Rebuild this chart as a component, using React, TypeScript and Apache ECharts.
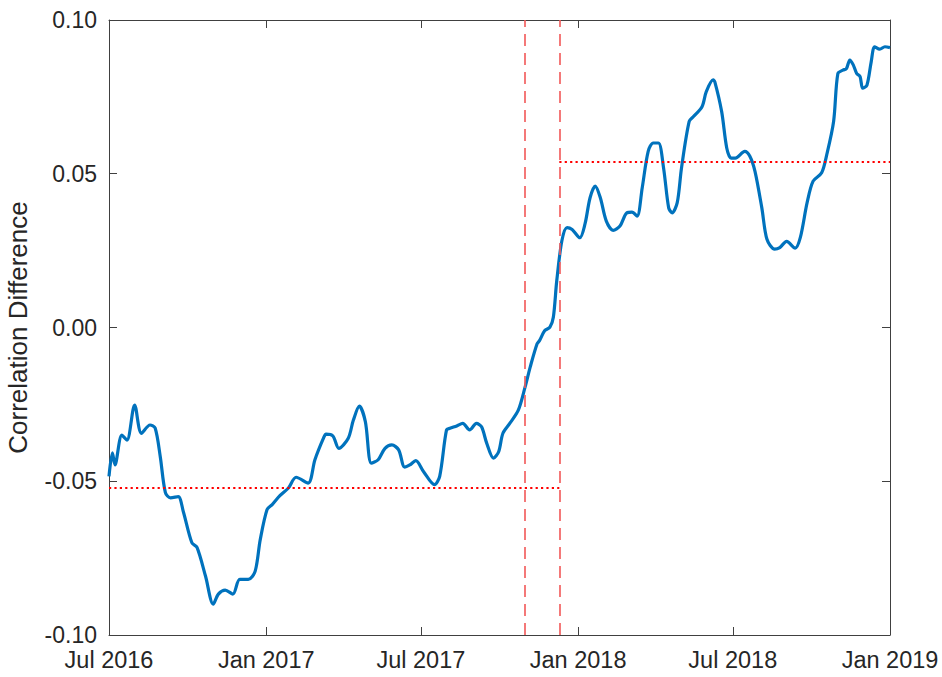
import React, { useEffect, useRef } from "react";
import * as echarts from "echarts";

// Correlation difference (rolling)
const dates: string[] = [
  "2016-07-01", "2016-07-05", "2016-07-08", "2016-07-16", "2016-07-22", "2016-07-31",
  "2016-08-08", "2016-08-18", "2016-08-24", "2016-08-30", "2016-09-05", "2016-09-11",
  "2016-09-20", "2016-09-26", "2016-10-06", "2016-10-12", "2016-10-22", "2016-10-31",
  "2016-11-06", "2016-11-14", "2016-11-23", "2016-12-01", "2016-12-11", "2016-12-19",
  "2016-12-25", "2017-01-02", "2017-01-08", "2017-01-17", "2017-01-27", "2017-02-05",
  "2017-02-19", "2017-02-27", "2017-03-09", "2017-03-12", "2017-03-20", "2017-03-27",
  "2017-04-07", "2017-04-13", "2017-04-20", "2017-04-27", "2017-05-04", "2017-05-12",
  "2017-05-20", "2017-05-28", "2017-06-05", "2017-06-12", "2017-06-18", "2017-06-25",
  "2017-07-04", "2017-07-17", "2017-07-23", "2017-07-31", "2017-08-04", "2017-08-12",
  "2017-08-19", "2017-08-27", "2017-09-04", "2017-09-10", "2017-09-16", "2017-09-24",
  "2017-09-30", "2017-10-05", "2017-10-13", "2017-10-23", "2017-10-31", "2017-11-06",
  "2017-11-14", "2017-11-17", "2017-11-23", "2017-11-29", "2017-12-03", "2017-12-07",
  "2017-12-13", "2017-12-19", "2017-12-25", "2018-01-03", "2018-01-09", "2018-01-15",
  "2018-01-21", "2018-01-27", "2018-02-03", "2018-02-11", "2018-02-19", "2018-02-27",
  "2018-03-05", "2018-03-11", "2018-03-17", "2018-03-24", "2018-03-30", "2018-04-05",
  "2018-04-11", "2018-04-17", "2018-04-21", "2018-04-27", "2018-05-02", "2018-05-11",
  "2018-05-16", "2018-05-26", "2018-05-31", "2018-06-08", "2018-06-10", "2018-06-18",
  "2018-06-24", "2018-06-29", "2018-07-04", "2018-07-15", "2018-07-21", "2018-07-27",
  "2018-08-04", "2018-08-10", "2018-08-19", "2018-08-25", "2018-09-02", "2018-09-12",
  "2018-09-18", "2018-09-26", "2018-10-03", "2018-10-13", "2018-10-19", "2018-10-27",
  "2018-11-01", "2018-11-07", "2018-11-11", "2018-11-15", "2018-11-19", "2018-11-23",
  "2018-11-27", "2018-11-30", "2018-12-05", "2018-12-10", "2018-12-14", "2018-12-20",
  "2018-12-26", "2019-01-01",
];

const corrDiff: number[] = [
  -0.0484, -0.0408, -0.0447, -0.035, -0.0366, -0.0252,
  -0.0344, -0.0317, -0.0327, -0.042, -0.0537, -0.0554,
  -0.055, -0.0599, -0.07, -0.0715, -0.0809, -0.09,
  -0.0867, -0.0854, -0.0867, -0.0819, -0.0819, -0.0793,
  -0.069, -0.0592, -0.0576, -0.0547, -0.0522, -0.0487,
  -0.0506, -0.043, -0.036, -0.0347, -0.0353, -0.0393,
  -0.036, -0.0301, -0.0256, -0.0306, -0.0441, -0.043,
  -0.0393, -0.0382, -0.0398, -0.0454, -0.0447, -0.0433,
  -0.0468, -0.0511, -0.0484, -0.0333, -0.0328, -0.032,
  -0.0312, -0.0333, -0.0312, -0.0323, -0.0376, -0.0425,
  -0.0404, -0.0344, -0.0312, -0.0269, -0.0193, -0.0128,
  -0.0053, -0.0042, -0.001, 0.0001, 0.0033, 0.0152,
  0.0282, 0.0325, 0.0319, 0.0292, 0.0336, 0.0422,
  0.046, 0.0422, 0.0346, 0.0316, 0.033, 0.0373,
  0.0375, 0.0362, 0.0454, 0.0573, 0.06, 0.06,
  0.0519, 0.0389, 0.0373, 0.0406, 0.0519, 0.067,
  0.0686, 0.0718, 0.0767, 0.0805, 0.0799, 0.0702,
  0.0583, 0.0551, 0.0551, 0.0573, 0.0557, 0.0508,
  0.0389, 0.0287, 0.0255, 0.026, 0.028, 0.0258,
  0.0292, 0.0406, 0.0476, 0.0503, 0.0562, 0.067,
  0.0826, 0.0837, 0.0842, 0.087, 0.0854, 0.0826,
  0.0816, 0.0778, 0.0788, 0.0864, 0.0913, 0.0905,
  0.0913, 0.091,
];

// Break window (vertical dashed lines)
const breakDates: string[] = ["2017-10-31", "2017-12-10"];
// Regime means (horizontal dotted lines)
const preMean = -0.052;
const postMean = 0.054;

// Axis
const xStart = "2016-07-01";
const xEnd = "2019-01-01";
const xTickDates: string[] = [
  "2016-07-01", "2017-01-01", "2017-07-01", "2018-01-01", "2018-07-01", "2019-01-01",
];
const yMin = -0.1;
const yMax = 0.1;
const yStep = 0.05;
const yLabel = "Correlation Difference";
const monthNames = ["Jan", "Feb", "Mar", "Apr", "May", "Jun", "Jul", "Aug", "Sep", "Oct", "Nov", "Dec"];

const toTs = (s: string): number => {
  const [y, m, d] = s.split("-").map(Number);
  return new Date(y, m - 1, d).getTime();
};

const AXIS_COLOR = "#404040";
const TEXT_COLOR = "#262626";
const FONT = "Liberation Sans, Arial, Helvetica, sans-serif";

export default function App() {
  const ref = useRef<HTMLDivElement>(null);

  useEffect(() => {
    if (!ref.current) return;
    const chart = echarts.init(ref.current, undefined, { renderer: "svg" });
    const tickTs = xTickDates.map(toTs);
    const xMin = toTs(xStart);
    const xMax = toTs(xEnd);
    const b0 = toTs(breakDates[0]);
    const b1 = toTs(breakDates[1]);

    const commonX = {
      type: "value" as const,
      min: xMin,
      max: xMax,
      scale: true,
      axisLine: { show: true, onZero: false, lineStyle: { color: AXIS_COLOR, width: 1 } },
      axisTick: { show: true, inside: true, length: 8, customValues: tickTs, lineStyle: { color: AXIS_COLOR } },
      splitLine: { show: false },
      minorTick: { show: false },
    };
    const commonY = {
      type: "value" as const,
      min: yMin,
      max: yMax,
      interval: yStep,
      axisLine: { show: true, onZero: false, lineStyle: { color: AXIS_COLOR, width: 1 } },
      axisTick: { show: true, inside: true, length: 8, lineStyle: { color: AXIS_COLOR } },
      splitLine: { show: false },
    };

    const dashedStyle = { color: "#F25A5A", type: [12, 7], width: 1.8, opacity: 0.9 };
    const dottedStyle = { color: "#FF0000", type: [2.2, 3.2], width: 2.2, opacity: 1 };

    chart.setOption({
      animation: false,
      backgroundColor: "#ffffff",
      textStyle: { fontFamily: FONT },
      grid: {
        left: 109,
        right: 52,
        top: 20,
        bottom: 42,
        containLabel: false,
        outerBoundsMode: "none",
      },
      xAxis: [
        {
          ...commonX,
          position: "bottom",
          axisLabel: {
            show: true,
            customValues: tickTs,
            showMinLabel: true,
            showMaxLabel: true,
            hideOverlap: false,
            margin: 13,
            fontSize: 23.5,
            color: TEXT_COLOR,
            fontFamily: FONT,
            formatter: (v: number) => {
              const d = new Date(v);
              return monthNames[d.getMonth()] + " " + d.getFullYear();
            },
          },
        },
        {
          ...commonX,
          position: "top",
          axisLabel: { show: false },
        },
      ],
      yAxis: [
        {
          ...commonY,
          position: "left",
          name: yLabel,
          nameLocation: "middle",
          nameRotate: 90,
          nameGap: 78,
          nameTextStyle: { fontSize: 26, color: TEXT_COLOR, fontFamily: FONT },
          axisLabel: {
            margin: 12,
            fontSize: 23,
            color: TEXT_COLOR,
            fontFamily: FONT,
            formatter: (v: number) => v.toFixed(2),
          },
        },
        {
          ...commonY,
          position: "right",
          axisLabel: { show: false },
        },
      ],
      series: [
        {
          type: "line",
          xAxisIndex: 0,
          yAxisIndex: 0,
          data: dates.map((d, i) => [toTs(d), corrDiff[i]]),
          showSymbol: false,
          symbol: "none",
          smooth: 0.3,
          lineStyle: { color: "#0072BD", width: 3.2 },
          z: 2,
          markLine: {
            silent: true,
            symbol: ["none", "none"],
            label: { show: false },
            emphasis: { disabled: true },
            animation: false,
            data: [
              { xAxis: b0, lineStyle: dashedStyle },
              { xAxis: b1, lineStyle: dashedStyle },
              [
                { coord: [xMin, preMean], lineStyle: dottedStyle },
                { coord: [b1, preMean] },
              ],
              [
                { coord: [b1, postMean], lineStyle: dottedStyle },
                { coord: [xMax, postMean] },
              ],
            ],
          },
        },
      ],
    });

    return () => chart.dispose();
  }, []);

  return <div ref={ref} style={{ width: 942, height: 677, position: "absolute", left: 0, top: 0 }} />;
}
